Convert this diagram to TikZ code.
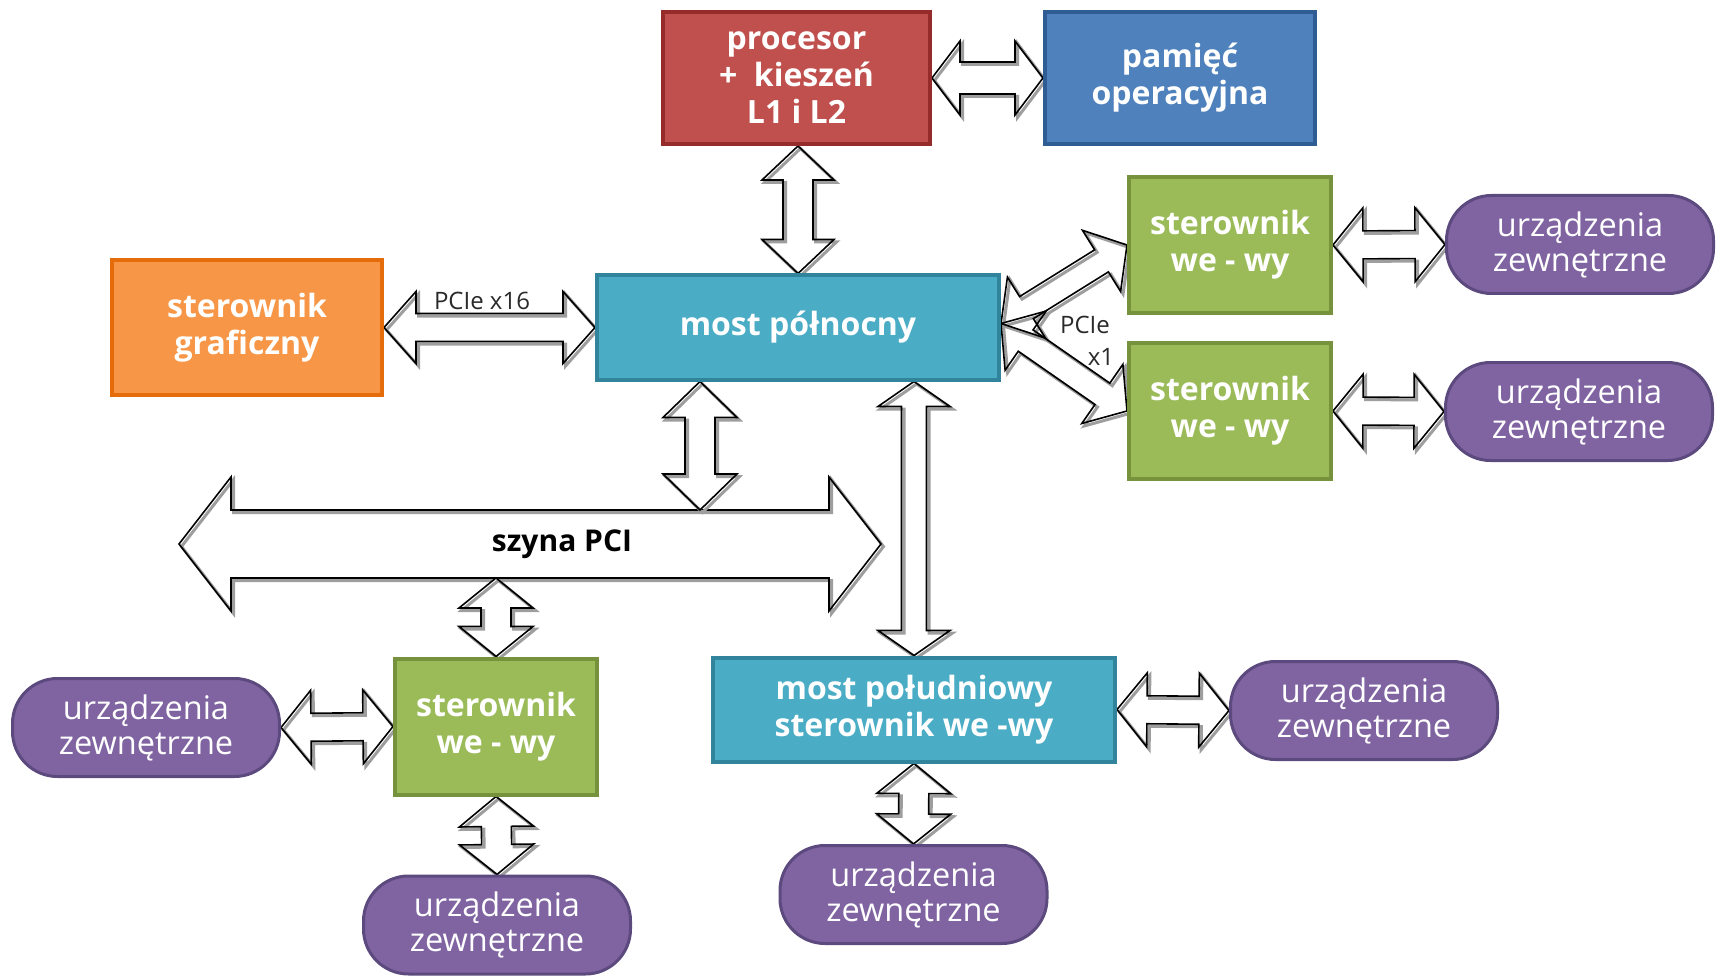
\documentclass[tikz,border=0pt]{standalone}
\usepackage{fontspec}
\setmainfont{Open Sans}
\usetikzlibrary{calc}
\pgfdeclarelayer{bg}
\pgfsetlayers{bg,main}

\definecolor{cpuFill}{HTML}{C0504D}\definecolor{cpuLine}{HTML}{962B2B}
\definecolor{memFill}{HTML}{4F81BD}\definecolor{memLine}{HTML}{2F5D93}
\definecolor{gfxFill}{HTML}{F79646}\definecolor{gfxLine}{HTML}{E46C0A}
\definecolor{brgFill}{HTML}{4BACC6}\definecolor{brgLine}{HTML}{31849B}
\definecolor{ioFill}{HTML}{9BBB59}\definecolor{ioLine}{HTML}{76923C}
\definecolor{devFill}{HTML}{8064A2}\definecolor{devLine}{HTML}{5C4A7E}
\definecolor{lblGray}{HTML}{2A2A2A}

% outline of a double-headed block arrow from #1 to #2
% #3 head length, #4 head half width, #5 shaft half width
\newcommand{\arrpath}[5]{(#1)
  -- ($(#1)!#3!(#2)!#4!90:(#2)$) -- ($(#1)!#3!(#2)!#5!90:(#2)$)
  -- ($(#2)!#3!(#1)!#5!-90:(#1)$) -- ($(#2)!#3!(#1)!#4!-90:(#1)$)
  -- (#2)
  -- ($(#2)!#3!(#1)!#4!90:(#1)$) -- ($(#2)!#3!(#1)!#5!90:(#1)$)
  -- ($(#1)!#3!(#2)!#5!-90:(#2)$) -- ($(#1)!#3!(#2)!#4!-90:(#2)$)
  -- cycle}

\newcommand{\arrshade}[5]{%
  \begin{scope}[transform canvas={shift={(2.5pt,-2.5pt)}}]
    \draw[arrshadow] \arrpath{#1}{#2}{#3}{#4}{#5};
  \end{scope}}

\newcommand{\blockarrow}[5]{%
  \fill[white] \arrpath{#1}{#2}{#3}{#4}{#5};
  \arrshade{#1}{#2}{#3}{#4}{#5}
  \draw[arredge] \arrpath{#1}{#2}{#3}{#4}{#5};}

\tikzset{
  arrshadow/.style={draw=black!38, line width=3pt, line join=miter},
  arredge/.style={draw=black, line width=1.6pt, line join=miter},
  unit/.style={draw, line width=4pt, align=center, text=white, inner sep=0pt,
    font=\fontsize{32}{37}\selectfont\bfseries},
  cpubox/.style={unit, fill=cpuFill, draw=cpuLine, minimum width=267pt, minimum height=132pt},
  membox/.style={unit, fill=memFill, draw=memLine, minimum width=270pt, minimum height=132pt},
  gfxbox/.style={unit, fill=gfxFill, draw=gfxLine, minimum width=270pt, minimum height=135pt},
  brgbox/.style={unit, fill=brgFill, draw=brgLine, minimum width=402pt, minimum height=104pt},
  iobox/.style={unit, fill=ioFill, draw=ioLine, minimum width=202pt, minimum height=136pt},
  devbox/.style={draw=devLine, fill=devFill, line width=3pt, rounded corners=45pt,
    align=center, text=white, inner sep=0pt, minimum width=267pt, minimum height=98pt,
    font=\fontsize{32.5}{35}\selectfont},
  smalllbl/.style={text=lblGray, inner sep=0pt, font=\fontsize{24}{26}\selectfont},
}

\begin{document}
\begin{tikzpicture}[x=1pt, y=-1pt]
\useasboundingbox (0,0) rectangle (1721,976);

% units
\node[cpubox] (proc) at (796.5,78) {procesor\\+ \ kieszeń\\L1 i L2};
\node[membox] (mem) at (1180,78) {pamięć\\operacyjna};
\node[gfxbox] (gfx) at (247,327.5) {sterownik\\graficzny};
\node[brgbox] (north) at (798,327.5) {most północny};
\node[iobox] (io1) at (1230,245) {sterownik\\we - wy};
\node[iobox] (io2) at (1230,411) {sterownik\\we - wy};
\node[iobox] (io3) at (496,726.5) {sterownik\\we - wy};
\node[brgbox] (south) at (914,709.5) {most południowy\\sterownik we -wy};

% external devices
\node[devbox] (dev1) at (1580,244.5) {urządzenia\\zewnętrzne};
\node[devbox] (dev2) at (1579,411.5) {urządzenia\\zewnętrzne};
\node[devbox] (dev3) at (146,727.5) {urządzenia\\zewnętrzne};
\node[devbox] (dev4) at (497,925) {urządzenia\\zewnętrzne};
\node[devbox] (dev5) at (1364,710.5) {urządzenia\\zewnętrzne};
\node[devbox] (dev6) at (913.5,894.5) {urządzenia\\zewnętrzne};

% PCI bus
\coordinate (pciL) at (179,544);
\coordinate (pciR) at (881,544);
\coordinate (pciTop) at (700,510);
\coordinate (pciBot) at (499,578);
\node[inner sep=0pt, font=\fontsize{30}{33}\selectfont\bfseries] (pcilbl) at (562,544) {szyna PCI};

% labels on links
\node[smalllbl] (x16) at (482,301) {PCIe x16};
\node[smalllbl] (pcie1) at (1085,325) {PCIe};
\node[smalllbl] (pcie1b) at (1101,357) {x1};

\coordinate (nx) at ($(north.east)+(0,-4)$);

\begin{pgfonlayer}{bg}
  \blockarrow{pciL}{pciR}{52pt}{67pt}{34pt}
  \blockarrow{proc.east}{mem.west}{28pt}{37pt}{16pt}
  \blockarrow{north.north |- proc.south}{north.north}{34pt}{36pt}{15pt}
  \blockarrow{gfx.east}{north.west}{32pt}{36pt}{14pt}
  \blockarrow{pciTop |- north.south}{pciTop}{36pt}{37pt}{15pt}
  \blockarrow{south.north |- north.south}{south.north}{25pt}{36pt}{12.5pt}
  \blockarrow{io3.north |- pciBot}{io3.north}{30pt}{37pt}{15pt}
  \blockarrow{io3.south}{dev4.north}{30pt}{37pt}{15pt}
  \blockarrow{south.south}{dev6.north}{30pt}{37pt}{15pt}
  \blockarrow{dev3.east}{io3.west}{30pt}{37pt}{14pt}
  \blockarrow{south.east}{dev5.west}{30pt}{37pt}{14pt}
  \blockarrow{io1.east}{dev1.west}{30pt}{37pt}{14pt}
  \blockarrow{io2.east}{dev2.west}{30pt}{37pt}{14pt}
  % PCIe x1 fork to the two I/O controllers
  \fill[white] \arrpath{nx}{io1.west}{30pt}{36pt}{13pt};
  \fill[white] \arrpath{nx}{io2.west}{30pt}{36pt}{13pt};
  \arrshade{nx}{io1.west}{30pt}{36pt}{13pt}
  \arrshade{nx}{io2.west}{30pt}{36pt}{13pt}
  \draw[arredge] \arrpath{nx}{io1.west}{30pt}{36pt}{13pt};
  \draw[arredge] \arrpath{nx}{io2.west}{30pt}{36pt}{13pt};
\end{pgfonlayer}
\end{tikzpicture}
\end{document}
